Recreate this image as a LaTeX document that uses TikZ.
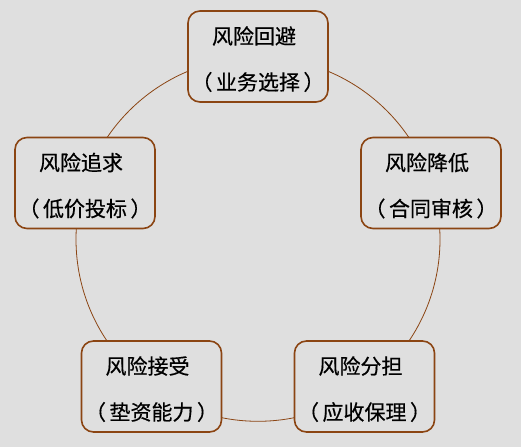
\documentclass[tikz,border=0pt]{standalone}
\usepackage{fontspec}
\newfontfamily\cjk[AutoFakeBold=0.5]{Noto Sans CJK SC}
\usetikzlibrary{calc}
\definecolor{bgc}{RGB}{223,223,223}
\definecolor{brd}{RGB}{139,69,19}
\tikzset{
  box/.style={draw=brd, line width=1.6pt, fill=bgc, rounded corners=12pt, minimum width=140pt, minimum height=91pt, inner sep=0pt},
  txt/.style={font=\cjk\bfseries\fontsize{21}{24}\selectfont, text=black, inner sep=0pt},
  ring/.style={draw=brd, line width=0.8pt}
}
\begin{document}
\begin{tikzpicture}[x=1pt,y=1pt]
\fill[bgc] (0,0) rectangle (521,447);
\useasboundingbox (0,0) rectangle (521,447);
\coordinate (c) at (258,207.7);
\draw[ring] (c) circle (182);
\node[box] (n1) at (258,390.5) {};
\node[box] (n2) at (431,264) {};
\node[box] (n3) at (364.5,60.5) {};
\node[box] (n4) at (151.5,60.5) {};
\node[box] (n5) at (85,264) {};
\foreach \n/\a/\b in {n1/风险回避/业务选择, n2/风险降低/合同审核, n3/风险分担/应收保理, n4/风险接受/垫资能力, n5/风险追求/低价投标}{
  \node[txt] (\n a) at ($(\n)+(-4,20.5)$) {\a};
  \node[txt] (\n b) at ($(\n)+(0,-25.5)$) {（\,\b\,）};
}
\end{tikzpicture}
\end{document}
